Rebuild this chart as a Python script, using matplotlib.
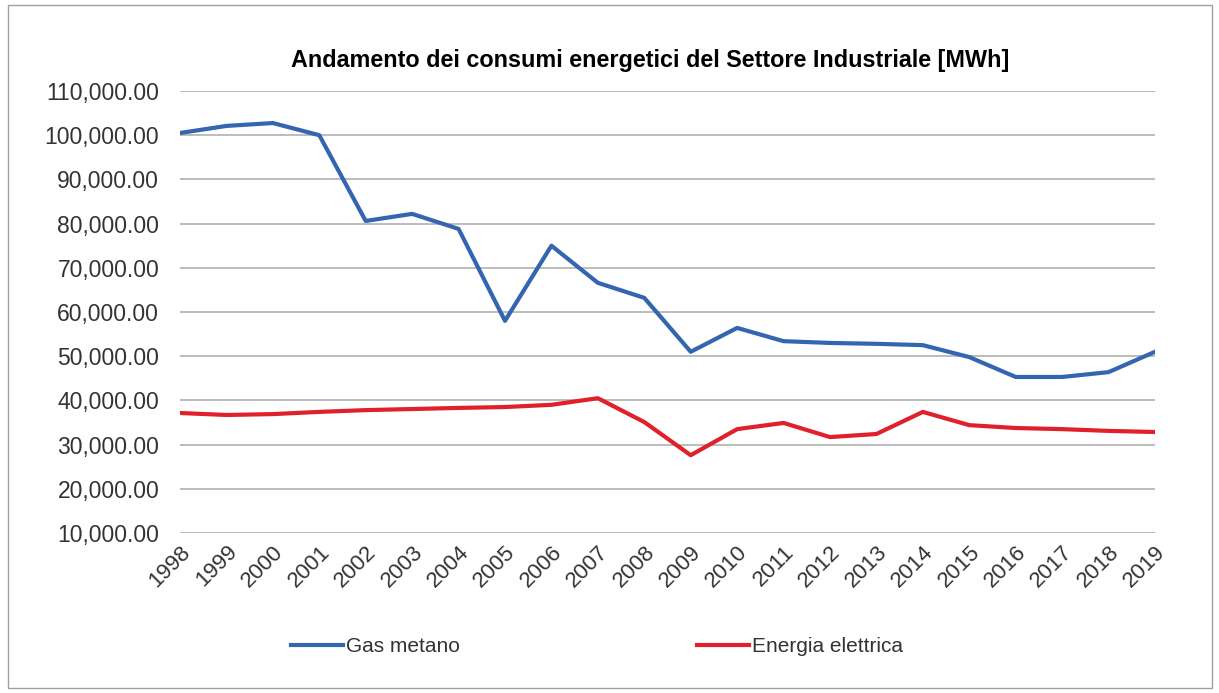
import numpy as np
import matplotlib.pyplot as plt
from matplotlib.patches import Rectangle
from matplotlib.ticker import FuncFormatter

plt.rcParams['font.family'] = ['Liberation Sans', 'DejaVu Sans']

anni = list(range(1998, 2020))
gas_metano = [100500, 102100, 102750, 100000, 80600, 82200, 78800, 58000, 75000, 66600,
              63200, 51000, 56400, 53400, 53000, 52800, 52500, 49800, 45300, 45300,
              46400, 51000]
energia_elettrica = [37150, 36700, 36900, 37400, 37800, 38050, 38300, 38500, 39000, 40500,
                     35100, 27600, 33500, 34900, 31700, 32400, 37400, 34400, 33750, 33500,
                     33100, 32850]

fig = plt.figure(figsize=(12.19, 6.93), dpi=100)
ax = fig.add_axes([180/1219, 1 - 533/693, (1155-180)/1219, (533-91)/693])

ax.plot(anni, gas_metano, color='#3465b0', lw=3, label='Gas metano')
ax.plot(anni, energia_elettrica, color='#e0202a', lw=3, label='Energia elettrica')

ax.set_xlim(1998, 2019)
ax.set_ylim(10000, 110000)
ax.set_yticks(np.arange(10000, 110001, 10000))
ax.yaxis.set_major_formatter(FuncFormatter(lambda v, p: f'{v:,.2f}'))
ax.set_xticks(anni)
ax.set_xticklabels([str(a) for a in anni], rotation=45, ha='right', va='top',
                   rotation_mode='anchor')
ax.grid(axis='y', color='#b0b0b0', lw=1.2)
ax.set_axisbelow(True)
for s in ax.spines.values():
    s.set_visible(False)
ax.tick_params(axis='y', length=0, labelsize=16.5, colors='#333333', pad=15)
ax.tick_params(axis='x', length=0, labelsize=16, colors='#333333', pad=6)

fig.text(650/1219, 1 - 60/693, 'Andamento dei consumi energetici del Settore Industriale [MWh]',
         ha='center', va='center', fontsize=16.8, fontweight='bold', color='black')

fig.legend(loc='center', bbox_to_anchor=(597/1219, 1 - 647/693), ncol=2, frameon=False,
           fontsize=15, handlelength=2.5, handletextpad=0.15, columnspacing=11.4,
           labelcolor='#333333')

fig.patches.append(Rectangle((8/1219, 5/693), 1204/1219, 683/693, transform=fig.transFigure,
                             fill=False, edgecolor='#a0a0a0', lw=1))

fig.savefig('out.png', dpi=100)
